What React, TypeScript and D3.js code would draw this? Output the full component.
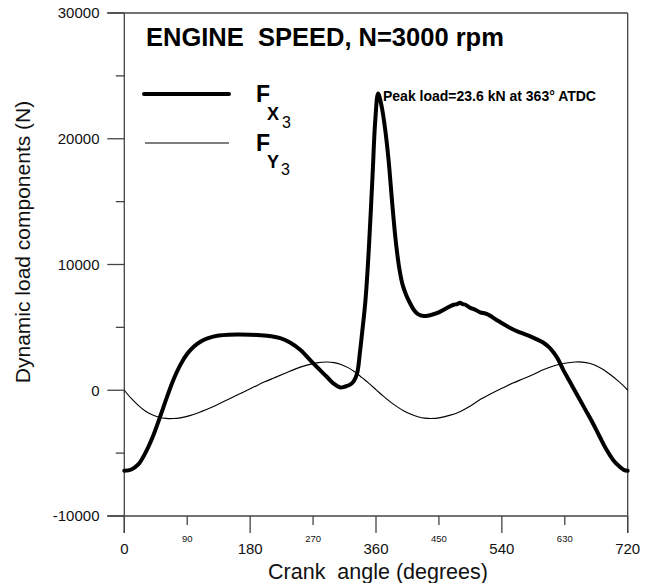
import React from "react";
import * as d3 from "d3";

// Crank angle (deg) and Fx3 (N) - thick curve
const fxAngles = [0, 10, 20, 30, 40, 50, 60, 70, 80, 90, 100, 110, 120, 135, 150, 165, 180, 195, 210, 223, 237, 252, 270, 290, 300, 309, 316, 323, 328, 333, 337, 340, 345, 350, 355, 359, 363, 368, 373, 378, 383, 388, 393, 398, 403, 408, 414, 420, 428, 436, 448, 460, 471, 476, 480, 484, 488, 495, 502, 509, 519, 535, 552, 566, 580, 590, 599, 607, 614, 620, 628, 635, 642, 650, 660, 670, 680, 690, 700, 709, 715, 720];
const fxValues = [-6400, -6300, -5900, -5000, -3800, -2300, -700, 800, 2000, 2900, 3500, 3900, 4150, 4350, 4420, 4430, 4420, 4380, 4300, 4150, 3800, 3200, 2150, 1050, 500, 220, 300, 450, 700, 1350, 3000, 4500, 7200, 11500, 17000, 21500, 23600, 22600, 20800, 18300, 15000, 12000, 9800, 8400, 7600, 7000, 6400, 6050, 5900, 5950, 6150, 6500, 6800, 6850, 6950, 6850, 6800, 6550, 6400, 6200, 6050, 5500, 4950, 4600, 4300, 4050, 3800, 3450, 3000, 2500, 1600, 900, 200, -600, -1600, -2600, -3700, -4750, -5600, -6100, -6350, -6400];

// Crank angle (deg) and Fy3 (N) - thin curve
const fyAngles = [0, 10, 20, 30, 40, 50, 60, 70, 80, 95, 110, 125, 140, 155, 170, 185, 200, 215, 230, 245, 260, 275, 290, 300, 310, 320, 330, 340, 350, 360, 370, 380, 390, 400, 410, 420, 430, 440, 450, 465, 480, 495, 510, 525, 540, 555, 570, 585, 600, 615, 630, 645, 655, 665, 675, 685, 695, 705, 713, 720];
const fyValues = [0, -650, -1200, -1650, -1950, -2150, -2240, -2250, -2200, -2000, -1700, -1350, -950, -550, -150, 250, 650, 1000, 1350, 1700, 1980, 2180, 2250, 2200, 2050, 1800, 1450, 1000, 550, 50, -450, -900, -1300, -1650, -1900, -2100, -2220, -2250, -2200, -2000, -1700, -1250, -700, -250, 150, 550, 900, 1250, 1650, 1950, 2150, 2250, 2240, 2150, 1950, 1650, 1250, 800, 400, 0];

const yMajorTicks = [-10000, 0, 10000, 20000, 30000];
const yMinorTicks = [-5000, 5000, 15000, 25000];
const xMajorTicks = [0, 180, 360, 540, 720];
const xMinorTicks = [90, 270, 450, 630];

const FONT = "'Liberation Sans', Arial, Helvetica, sans-serif";

export default function App() {
  const W = 650;
  const H = 583;
  const left = 124.3;
  const right = 627.7;
  const top = 13;
  const bottom = 516;
  const x = d3.scaleLinear().domain([0, 720]).range([left, right]);
  const y = d3.scaleLinear().domain([-10000, 30000]).range([bottom, top]);

  const line = d3
    .line<[number, number]>()
    .x((d) => x(d[0]))
    .y((d) => y(d[1]))
    .curve(d3.curveCatmullRom.alpha(0.5));

  const fxData: [number, number][] = fxAngles.map((a, i) => [a, fxValues[i]]);
  const fyData: [number, number][] = fyAngles.map((a, i) => [a, fyValues[i]]);

  const axisColor = "#444";

  return (
    <svg
      width={W}
      height={H}
      style={{ position: "absolute", left: 0, top: 0, background: "#fff" }}
      fontFamily={FONT}
    >
      <rect x={0} y={0} width={W} height={H} fill="#fff" />
      {/* frame */}
      <line x1={left - 17} x2={right} y1={top} y2={top} stroke={axisColor} strokeWidth={1.3} />
      <line x1={left - 17} x2={right} y1={bottom} y2={bottom} stroke={axisColor} strokeWidth={1.3} />
      <line x1={left} x2={left} y1={top} y2={bottom + 17} stroke={axisColor} strokeWidth={1.3} />
      <line x1={right} x2={right} y1={top} y2={bottom + 17} stroke={axisColor} strokeWidth={1.3} />

      {/* y ticks */}
      {yMajorTicks.map((t) => (
        <g key={"ym" + t}>
          <line x1={left - 17} x2={left} y1={y(t)} y2={y(t)} stroke={axisColor} strokeWidth={1.3} />
          <text x={99.5} y={y(t) + 5.4} fontSize={15} textAnchor="end" fill="#111">
            {t}
          </text>
        </g>
      ))}
      {yMinorTicks.map((t) => (
        <line key={"yn" + t} x1={left - 8.5} x2={left} y1={y(t)} y2={y(t)} stroke={axisColor} strokeWidth={1.3} />
      ))}

      {/* x ticks */}
      {xMajorTicks.map((t) => (
        <g key={"xm" + t}>
          <line x1={x(t)} x2={x(t)} y1={bottom} y2={bottom + 17} stroke={axisColor} strokeWidth={1.3} />
          <text x={x(t)} y={554} fontSize={15} textAnchor="middle" fill="#111">
            {t}
          </text>
        </g>
      ))}
      {xMinorTicks.map((t) => (
        <g key={"xn" + t}>
          <line x1={x(t)} x2={x(t)} y1={bottom} y2={bottom + 9} stroke={axisColor} strokeWidth={1.3} />
          <text x={x(t)} y={542} fontSize={9.5} textAnchor="middle" fill="#111">
            {t}
          </text>
        </g>
      ))}

      {/* axis titles */}
      <text x={378} y={579} fontSize={21.5} textAnchor="middle" fill="#111">
        {"Crank\u00a0\u00a0angle (degrees)"}
      </text>
      <text
        transform={`translate(30,242) rotate(-90)`}
        fontSize={21}
        textAnchor="middle"
        fill="#111"
      >
        Dynamic load components (N)
      </text>

      {/* curves */}
      <path d={line(fyData) || ""} fill="none" stroke="#000" strokeWidth={1.1} />
      <path d={line(fxData) || ""} fill="none" stroke="#000" strokeWidth={4} strokeLinejoin="round" strokeLinecap="round" />

      {/* title */}
      <text x={146} y={46} fontSize={25.5} fontWeight="bold" fill="#000">
        {"ENGINE\u00a0\u00a0SPEED, N=3000 rpm"}
      </text>

      {/* annotation */}
      <text x={383} y={101} fontSize={14} fontWeight="bold" fill="#000">
        {"Peak load=23.6 kN at 363\u00b0 ATDC"}
      </text>

      {/* legend */}
      <line x1={144} x2={229} y1={94} y2={94} stroke="#000" strokeWidth={4} strokeLinecap="round" />
      <line x1={145} x2={229} y1={143} y2={143} stroke="#000" strokeWidth={1.1} />
      <text x={256} y={102} fontSize={23} fontWeight="bold" fill="#000">F</text>
      <text x={267} y={120} fontSize={18} fontWeight="bold" fill="#000">X</text>
      <text x={282} y={128} fontSize={16} fill="#000">3</text>
      <text x={256} y={151} fontSize={23} fontWeight="bold" fill="#000">F</text>
      <text x={267} y={168} fontSize={18} fontWeight="bold" fill="#000">Y</text>
      <text x={281} y={175} fontSize={16} fill="#000">3</text>
    </svg>
  );
}
